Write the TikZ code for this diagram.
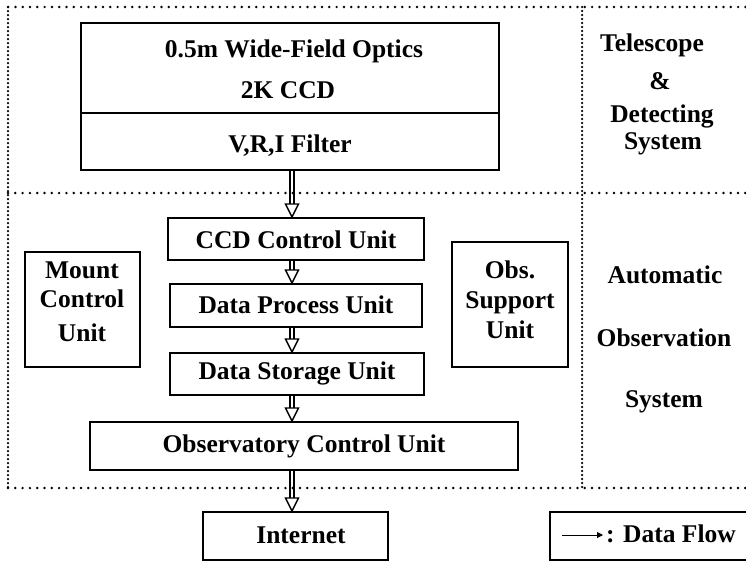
\documentclass[tikz,border=0pt]{standalone}
\usepackage{fontspec}
\setmainfont{Liberation Serif}
\usetikzlibrary{calc,arrows.meta}

% hollow data-flow arrow: double shaft with an open triangular head
\newcommand\flowarrow[2]{%
  \coordinate (fs) at (#1.south -| ax);
  \coordinate (fe) at (#2.north -| ax);
  \draw[shaft] ($(fs)+(-2,0)$) -- ($(fe)+(-2,-13)$)
               ($(fs)+(2,0)$) -- ($(fe)+(2,-13)$);
  \draw[head] ($(fe)+(-6.5,-13)$) -- (fe) -- ($(fe)+(6.5,-13)$) -- cycle;
}

\begin{document}
\begin{tikzpicture}[x=1pt,y=-1pt,
  box/.style={draw, line width=2pt, rectangle, inner sep=0pt},
  txt/.style={anchor=base, inner sep=0pt, font=\fontsize{25.5}{30}\selectfont\bfseries},
  dotsh/.style={line width=2.7pt, line cap=round, dash pattern=on 0pt off 7.3pt},
  dotsv/.style={line width=2.5pt, line cap=round, dash pattern=on 0pt off 4pt},
  shaft/.style={line width=1.2pt},
  head/.style={line width=1.4pt, fill=white, line join=miter}
]
\useasboundingbox (0,0) rectangle (746,562);
\clip (0,0) rectangle (746,562);

% system frames
\draw[dotsh] (760,7) -- (8,7);
\draw[dotsv] (8,7) -- (8,488);
\draw[dotsh] (8,488) -- (760,488);
\draw[dotsh] (8,193) -- (760,193);
\draw[dotsv] (582,7) -- (582,488);

% telescope & detecting system
\node[box, minimum width=418, minimum height=90] (optics) at (290,68) {};
\node[box, minimum width=418, minimum height=57] (filter) at (290,141.5) {};
\node[txt] (t1) at (294,57) {0.5m Wide-Field Optics};
\node[txt] (t2) at (288,98) {2K CCD};
\node[txt] (t3) at (290,152) {V,R,I Filter};

\node[txt] (s1) at (652,51) {Telescope};
\node[txt] (s2) at (660,89) {\&};
\node[txt] (s3) at (662,122) {Detecting};
\node[txt] (s4) at (663,149) {System};

% automatic observation system
\node[box, minimum width=256, minimum height=42] (ccd) at (296,239) {};
\node[box, minimum width=252, minimum height=43] (proc) at (296,305.5) {};
\node[box, minimum width=254, minimum height=42] (stor) at (297,374) {};
\node[box, minimum width=428, minimum height=48] (ocu) at (304,446) {};
\node[box, minimum width=115, minimum height=115] (mount) at (82.5,309.5) {};
\node[box, minimum width=116, minimum height=125] (supp) at (510,304.5) {};

\node[txt] (c1) at (296,248) {CCD Control Unit};
\node[txt] (c2) at (296,313) {Data Process Unit};
\node[txt] (c3) at (297,379) {Data Storage Unit};
\node[txt] (c4) at (304,452) {Observatory Control Unit};
\node[txt] (m1) at (82,278) {Mount};
\node[txt] (m2) at (82,307) {Control};
\node[txt] (m3) at (82,341) {Unit};
\node[txt] (o1) at (510,278) {Obs.};
\node[txt] (o2) at (510,308) {Support};
\node[txt] (o3) at (510,338) {Unit};

\node[txt] (a1) at (665,283) {Automatic};
\node[txt] (a2) at (664,346) {Observation};
\node[txt] (a3) at (664,407) {System};

% outside
\node[box, minimum width=185, minimum height=48] (net) at (295.5,536) {};
\node[txt] (n1) at (301,543) {Internet};

% legend
\node[box, minimum width=210, minimum height=48] (leg) at (655,536) {};
\coordinate (lgs) at (562,535);
\coordinate (lge) at (603,535);
\draw[line width=1pt, -{Triangle[length=6pt,width=6pt]}] (lgs) -- (lge);
\node[txt, anchor=base west] (l1) at (606,542) {: Data Flow};

% data flow
\coordinate (ax) at (292,0);
\flowarrow{filter}{ccd}
\flowarrow{ccd}{proc}
\flowarrow{proc}{stor}
\flowarrow{stor}{ocu}
\flowarrow{ocu}{net}
\end{tikzpicture}
\end{document}
